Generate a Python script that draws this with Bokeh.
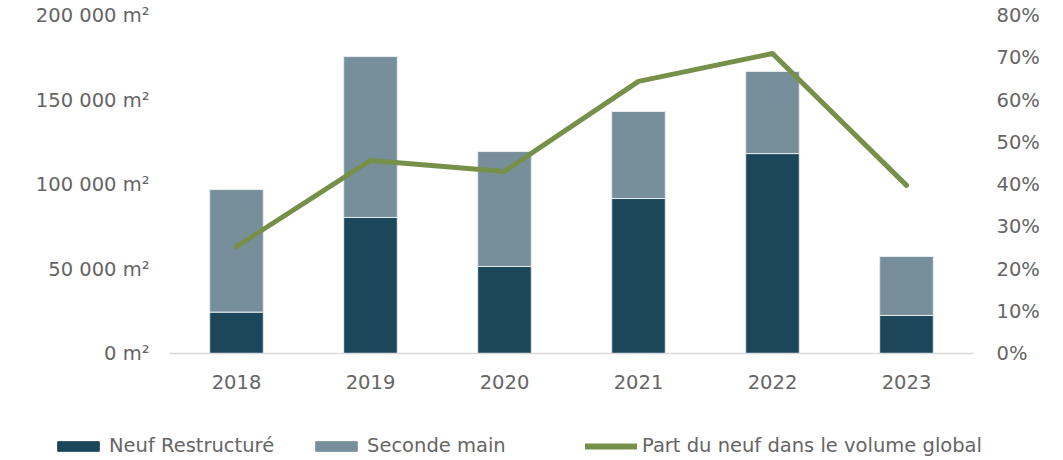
from bokeh.plotting import figure
from bokeh.models import (FactorRange, Range1d, LinearAxis, FixedTicker, Legend,
                          LegendItem, ColumnDataSource)
from bokeh.embed import file_html
from bokeh.resources import INLINE

years = ["2018", "2019", "2020", "2021", "2022", "2023"]
neuf = [24500, 80500, 51500, 91700, 118300, 22500]
seconde = [72500, 95200, 68000, 51500, 48600, 34900]
part = [25.3, 45.7, 43.1, 64.4, 71.0, 39.8]

left_ticks = [0, 50000, 100000, 150000, 200000]
left_labels = ["0 m²", "50 000 m²", "100 000 m²", "150 000 m²", "200 000 m²"]
right_ticks = [0, 10, 20, 30, 40, 50, 60, 70, 80]
right_labels = ["0%", "10%", "20%", "30%", "40%", "50%", "60%", "70%", "80%"]
legend_labels = ["Neuf Restructuré", "Seconde main", "Part du neuf dans le volume global"]

DARK = "#1c465a"
LIGHT = "#778f9b"
GREEN = "#76904a"
TXT = "#656565"
FONT = "DejaVu Sans"
FS = "19.5px"

src = ColumnDataSource(dict(years=years, neuf=neuf, seconde=seconde, part=part))

p = figure(x_range=FactorRange(*years, range_padding=0), y_range=Range1d(0, 200000),
           width=1055, height=412, output_backend="svg", toolbar_location=None,
           min_border_left=169, min_border_right=82, min_border_top=15, min_border_bottom=59)
p.extra_y_ranges = {"pct": Range1d(0, 80)}

bars = p.vbar_stack(["neuf", "seconde"], x="years", width=0.4, source=src,
                    color=[DARK, LIGHT], line_color="#e6ecef", line_width=1)
ln = p.line(x="years", y="part", source=src, y_range_name="pct",
            line_color=GREEN, line_width=5, line_join="round", line_cap="round")

p.outline_line_color = None
p.xgrid.grid_line_color = None
p.ygrid.grid_line_color = None

xa = p.xaxis[0]
xa.axis_line_color = "#d9d9d9"
xa.axis_line_width = 1.5
xa.major_tick_line_color = None
xa.minor_tick_line_color = None
xa.major_label_standoff = 15
xa.major_label_text_font = FONT
xa.major_label_text_font_size = FS
xa.major_label_text_color = TXT

ya = p.yaxis[0]
ya.ticker = FixedTicker(ticks=left_ticks)
ya.major_label_overrides = {t: l for t, l in zip(left_ticks, left_labels)}
ya.axis_line_color = None
ya.major_tick_line_color = None
ya.minor_tick_line_color = None
ya.major_label_standoff = 14
ya.major_label_text_font = FONT
ya.major_label_text_font_size = FS
ya.major_label_text_color = TXT

ra = LinearAxis(y_range_name="pct", ticker=FixedTicker(ticks=right_ticks))
ra.major_label_overrides = {t: l for t, l in zip(right_ticks, right_labels)}
ra.axis_line_color = None
ra.major_tick_line_color = None
ra.minor_tick_line_color = None
ra.major_label_standoff = 17
ra.major_label_text_font = FONT
ra.major_label_text_font_size = FS
ra.major_label_text_color = TXT
p.add_layout(ra, "right")

# legend strip (separate root so that its frame is not aligned with the chart's)
lf = figure(width=1055, height=48, output_backend="svg", toolbar_location=None,
            x_range=Range1d(0, 1), y_range=Range1d(0, 1),
            min_border=0, min_border_left=0, min_border_right=0,
            min_border_top=0, min_border_bottom=0)
lf.axis.visible = False
lf.grid.visible = False
lf.outline_line_color = None
hidden = ColumnDataSource(dict(x=[-10], top=[-10], y=[-10]))
r1 = lf.vbar(x="x", top="top", width=0.1, source=hidden, color=DARK)
r2 = lf.vbar(x="x", top="top", width=0.1, source=hidden, color=LIGHT)
r3 = lf.line(x="x", y="y", source=hidden, line_color=GREEN, line_width=6, line_cap="round")

def add_leg(label, rend, x):
    lg = Legend(items=[LegendItem(label=label, renderers=[rend])],
                location=(x, 3), orientation="horizontal",
                glyph_width=52, glyph_height=12, label_standoff=5,
                padding=0, margin=0, spacing=0,
                border_line_color=None, background_fill_alpha=0,
                label_text_font=FONT, label_text_font_size=FS, label_text_color=TXT)
    lf.add_layout(lg, "center")

add_leg(legend_labels[0], r1, 52)
add_leg(legend_labels[1], r2, 310)
add_leg(legend_labels[2], r3, 585)

open("out.html", "w").write(file_html([p, lf], INLINE))
